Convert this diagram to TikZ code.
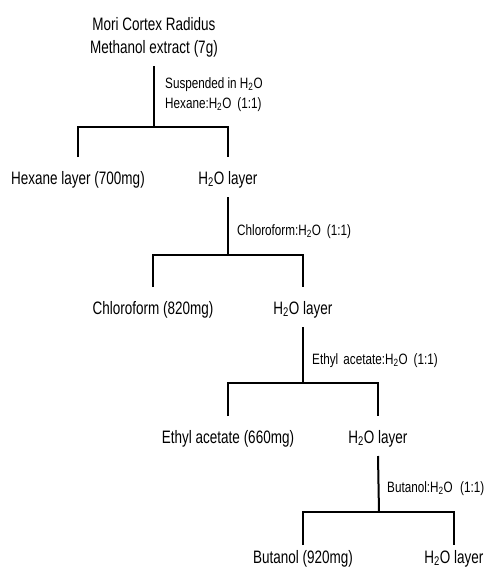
\documentclass[tikz,border=0pt]{standalone}
\usepackage{fontspec}
\setmainfont{Liberation Sans}[FakeStretch=0.75]
\newfontfamily\condfont{Liberation Sans}[FakeStretch=0.78]
\newcommand\water{H\textsubscript{2}O}
\begin{document}
\begin{tikzpicture}[x=1pt,y=-1pt,
  link/.style={line width=2pt, line join=miter},
  layer/.style={anchor=base, inner sep=0pt, outer ysep=9pt,
    text height=18pt, text depth=4pt, font=\fontsize{18}{22}\selectfont},
  cond/.style={anchor=base west, inner sep=0pt, font=\condfont\fontsize{15}{18}\selectfont}]
\useasboundingbox (0,0) rectangle (484,574);

% starting extract
\node[layer] (title1) at (154,30) {Mori Cortex Radidus};
\node[layer] (title2) at (154,53) {Methanol extract (7g)};

% first partition
\coordinate (j1) at (154,127);
\node[cond] (c1a) at (165,88) {Suspended in \water};
\node[cond] (c1b) at (165,108) {Hexane:\water\hspace{0.4em}(1:1)};
\node[layer] (hex) at (78,184) {Hexane layer (700mg)};
\node[layer] (w1) at (228,184) {\water{} layer};
\draw[link] (title2.south) -- (j1);
\draw[link] (hex.north) |- (j1) -| (w1.north);

% second partition
\coordinate (j2) at (228,255);
\node[cond] (c2) at (237,235) {Chloroform:\water\hspace{0.4em}(1:1)};
\node[layer] (chl) at (153,314) {Chloroform (820mg)};
\node[layer] (w2) at (303,314) {\water{} layer};
\draw[link] (w1.south) -- (j2);
\draw[link] (chl.north) |- (j2) -| (w2.north);

% third partition
\coordinate (j3) at (303,383);
\node[cond] (c3) at (312,364) {Ethyl\hspace{0.35em}acetate:\water\hspace{0.4em}(1:1)};
\node[layer] (eth) at (228,443) {Ethyl acetate (660mg)};
\node[layer] (w3) at (378,443) {\water{} layer};
\draw[link] (w2.south) -- (j3);
\draw[link] (eth.north) |- (j3) -| (w3.north);

% fourth partition
\coordinate (j4) at (379,512);
\node[cond] (c4) at (387,492) {Butanol:\water\hspace{0.5em}(1:1)};
\node[layer, outer ysep=0pt] (but) at (303,563) {Butanol (920mg)};
\node[layer, outer ysep=0pt] (w4) at (454,563) {\water{} layer};
\draw[link] (w3.south) -- (j4);
\draw[link] (but.north) |- (j4) -| (w4.north);
\end{tikzpicture}
\end{document}
